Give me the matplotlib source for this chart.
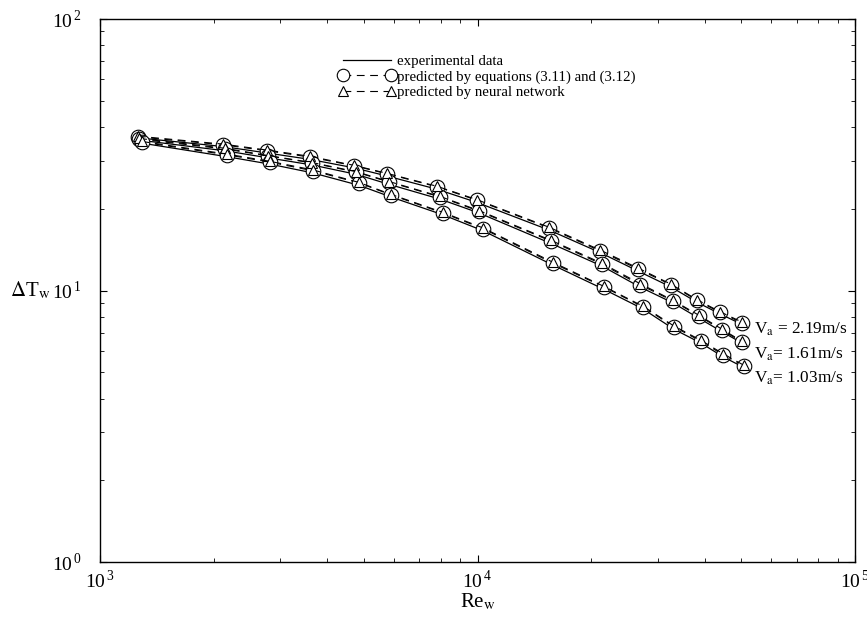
import matplotlib
matplotlib.use('Agg')
import matplotlib.pyplot as plt
from matplotlib.lines import Line2D
from matplotlib.ticker import LogLocator, NullFormatter, FuncFormatter
import numpy as np

plt.rcParams['font.family'] = ['Liberation Serif', 'DejaVu Serif']
plt.rcParams['mathtext.fontset'] = 'stix'

# Water Reynolds number for each air velocity
re_219 = [1260, 2120, 2770, 3600, 4710, 5760, 7810, 9970, 15470, 21100, 26600, 32550, 38150, 43900, 50200]
re_161 = [1270, 2145, 2790, 3645, 4765, 5830, 7960, 10090, 15660, 21370, 26940, 32950, 38620, 44440, 50200]
re_103 = [1290, 2170, 2820, 3665, 4855, 5900, 8100, 10340, 15850, 21630, 27440, 33150, 39090, 44710, 50820]

# Water temperature drop, measured
exp_219 = [36.5, 33.9, 32.1, 30.4, 28.3, 26.4, 23.6, 21.1, 16.7, 13.8, 11.8, 10.3, 9.05, 8.2, 7.5]
exp_161 = [35.8, 32.7, 30.8, 29.0, 26.8, 24.6, 21.7, 19.3, 14.9, 12.3, 10.3, 9.0, 7.9, 7.05, 6.4]
exp_103 = [34.9, 31.1, 29.2, 27.1, 24.4, 22.1, 19.0, 16.6, 12.4, 10.1, 8.55, 7.2, 6.4, 5.7, 5.2]

# Predicted by equations (3.11) and (3.12)
eq_219 = [36.8, 34.4, 32.7, 31.0, 28.8, 26.9, 24.1, 21.5, 17.0, 14.0, 12.0, 10.5, 9.2, 8.3, 7.6]
eq_161 = [36.1, 33.2, 31.3, 29.5, 27.3, 25.1, 22.1, 19.6, 15.2, 12.5, 10.5, 9.15, 8.05, 7.15, 6.46]
eq_103 = [35.2, 31.6, 29.7, 27.6, 24.9, 22.5, 19.3, 16.9, 12.6, 10.3, 8.7, 7.35, 6.5, 5.8, 5.27]

# Predicted by neural network
nn_219 = [37.0, 34.6, 32.9, 31.2, 28.9, 27.0, 24.2, 21.6, 17.1, 14.1, 12.1, 10.55, 9.25, 8.35, 7.65]
nn_161 = [36.3, 33.4, 31.4, 29.6, 27.4, 25.2, 22.2, 19.7, 15.3, 12.6, 10.6, 9.2, 8.1, 7.2, 6.5]
nn_103 = [35.4, 31.8, 29.9, 27.8, 25.0, 22.6, 19.4, 17.0, 12.7, 10.35, 8.75, 7.4, 6.55, 5.85, 5.3]

va_labels = [r'V$_{\rm a}$ = 2.19m/s', r'V$_{\rm a}$= 1.61m/s', r'V$_{\rm a}$= 1.03m/s']

fig = plt.figure(figsize=(8.67, 6.2), dpi=100)
ax = fig.add_axes([0.1153, 0.0935, 0.8709, 0.8759])

dash = (0, (7, 5))
series = [(re_219, exp_219, eq_219, nn_219),
          (re_161, exp_161, eq_161, nn_161),
          (re_103, exp_103, eq_103, nn_103)]
for re, ex, eq, nn in series:
    ax.plot(re, ex, color='black', lw=0.9, zorder=2)
    ax.plot(re, eq, color='black', lw=0.8, ls=dash, marker='o', ms=10.5,
            mfc='white', mec='black', mew=0.8, zorder=3)
    ax.plot(re, nn, color='black', lw=0.8, ls=dash, marker='^', ms=7.5,
            mfc='white', mec='black', mew=0.8, zorder=4)

ax.set_xscale('log')
ax.set_yscale('log')
ax.set_xlim(1e3, 1e5)
ax.set_ylim(1e0, 1e2)


def dec_label(v, pos):
    return r'$\mathregular{10}^{\,\mathregular{%d}}$' % int(round(np.log10(v)))


for axis in (ax.xaxis, ax.yaxis):
    axis.set_major_locator(LogLocator(base=10))
    axis.set_major_formatter(FuncFormatter(dec_label))
    axis.set_minor_locator(LogLocator(base=10, subs=range(2, 10)))
    axis.set_minor_formatter(NullFormatter())

ax.tick_params(which='both', direction='in', top=True, right=True, labelsize=14)
ax.tick_params(which='major', length=5, width=0.8)
ax.tick_params(which='minor', length=3, width=0.6)
ax.tick_params(axis='y', which='major', pad=13)
ax.tick_params(axis='x', which='major', pad=6)
for s in ax.spines.values():
    s.set_linewidth(1.0)

ax.set_xlabel(r'Re$_{\rm w}$', fontsize=15)
ax.xaxis.set_label_coords(0.5, -0.055)
ax.set_ylabel(r'$\Delta$T$_{\rm w}$', fontsize=15, rotation=0, ha='right', va='center')
ax.yaxis.set_label_coords(-0.066, 0.5)

# velocity labels next to the curve ends
for lab, yf in zip(va_labels, [0.429, 0.383, 0.339]):
    ax.text(0.866, yf, lab, transform=ax.transAxes, fontsize=12.4, va='center', ha='left')

handles = [
    Line2D([], [], color='black', lw=0.9),
    Line2D([], [], color='black', lw=0.8, ls=dash, marker='o', ms=9, mfc='white', mec='black', mew=0.8),
    Line2D([], [], color='black', lw=0.8, ls=dash, marker='^', ms=6.5, mfc='white', mec='black', mew=0.8),
]
labels = ['experimental data', 'predicted by equations (3.11) and (3.12)', 'predicted by neural network']
ax.legend(handles, labels, loc='upper left', bbox_to_anchor=(339 / 867, 1 - 55 / 620),
          bbox_transform=fig.transFigure, frameon=False, numpoints=2, fontsize=10.7,
          handlelength=3.8, handletextpad=0.1, labelspacing=0.12, borderpad=0, borderaxespad=0)

fig.savefig('out.png', dpi=100)
